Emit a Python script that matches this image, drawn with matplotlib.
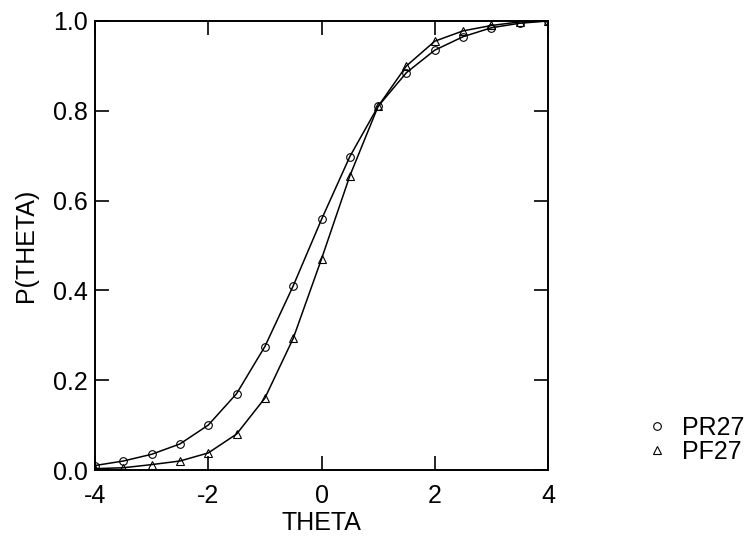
import numpy as np
import matplotlib
matplotlib.use("Agg")
import matplotlib.pyplot as plt

theta = [-4, -3.5, -3, -2.5, -2, -1.5, -1, -0.5, 0, 0.5, 1, 1.5, 2, 2.5, 3, 3.5, 4]
pr27 = [0.010, 0.020, 0.035, 0.058, 0.100, 0.170, 0.275, 0.410, 0.558, 0.698, 0.810,
        0.885, 0.935, 0.965, 0.985, 0.995, 1.000]
pf27 = [0.003, 0.005, 0.012, 0.020, 0.038, 0.080, 0.160, 0.293, 0.470, 0.655, 0.810,
        0.900, 0.955, 0.978, 0.990, 0.998, 1.000]

plt.rcParams['font.family'] = ['Liberation Sans', 'DejaVu Sans']
plt.rcParams['axes.unicode_minus'] = False

fig = plt.figure(figsize=(7.52, 5.36), dpi=100)
ax = fig.add_axes([95 / 752, 1 - 470 / 536, (548 - 95) / 752, (470 - 21) / 536])

ax.plot(theta, pr27, color="black", linewidth=1.1, marker="o", markersize=5.5,
        markerfacecolor="none", markeredgewidth=0.8, label="PR27")
ax.plot(theta, pf27, color="black", linewidth=1.1, marker="^", markersize=5.5,
        markerfacecolor="none", markeredgewidth=0.8, label="PF27")

ax.set_xlim(-4, 4)
ax.set_ylim(0, 1)
ax.set_xticks([-4, -2, 0, 2, 4])
ax.set_yticks([0.0, 0.2, 0.4, 0.6, 0.8, 1.0])
ax.set_yticklabels(["0.0", "0.2", "0.4", "0.6", "0.8", "1.0"])
ax.tick_params(direction="in", length=10, width=1.2, top=True, right=True,
               labelsize=18, pad=5)
ax.tick_params(axis="x", pad=10)
for s in ax.spines.values():
    s.set_linewidth(1.4)

ax.set_xlabel("THETA", fontsize=18, labelpad=2)
ax.set_ylabel("P(THETA)", fontsize=18, labelpad=11)

# legend to the right of the plot: markers only, no frame
h, l = ax.get_legend_handles_labels()
leg = fig.legend(h, l, loc="center left", bbox_to_anchor=(622 / 752, 1 - 440 / 536),
                 frameon=False, fontsize=18, handlelength=1.0, handletextpad=0.5,
                 labelspacing=0.0)
for line in leg.get_lines():
    line.set_linestyle("none")

fig.savefig("out.png", dpi=100)
